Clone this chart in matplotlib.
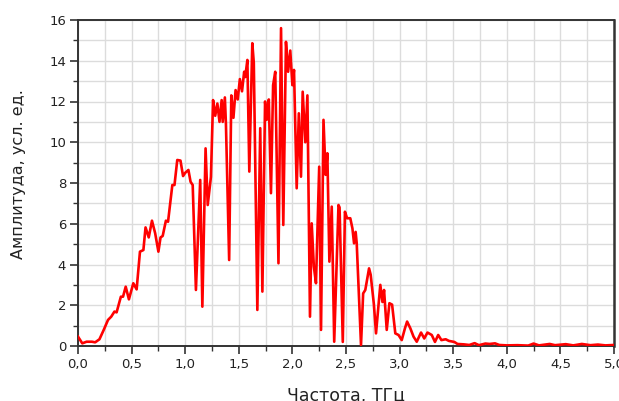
import matplotlib
matplotlib.use("Agg")
import matplotlib.pyplot as plt
from matplotlib.ticker import MultipleLocator, FuncFormatter

plt.rcParams['font.family'] = ['DejaVu Sans']

freq = [0.00, 0.04, 0.08, 0.13, 0.16, 0.20, 0.24, 0.28, 0.31, 0.34, 0.36, 0.40, 0.42, 0.445, 0.475,
        0.516, 0.547, 0.578, 0.61, 0.63, 0.66, 0.69, 0.72, 0.75, 0.77, 0.79, 0.82, 0.84, 0.88, 0.90,
        0.926, 0.956, 0.98, 1.00, 1.03, 1.05, 1.07, 1.10, 1.14, 1.16, 1.19, 1.21, 1.24, 1.26, 1.28,
        1.30, 1.32, 1.34, 1.35, 1.37, 1.38, 1.41, 1.43, 1.45, 1.47, 1.49, 1.51, 1.53, 1.55, 1.56,
        1.58, 1.598, 1.626, 1.64, 1.673, 1.70, 1.72, 1.745, 1.76, 1.78, 1.80, 1.82, 1.84, 1.87,
        1.894, 1.915, 1.94, 1.96, 1.98, 2.00, 2.015, 2.04, 2.06, 2.08, 2.096, 2.12, 2.14, 2.164,
        2.18, 2.20, 2.22, 2.25, 2.267, 2.29, 2.31, 2.326, 2.345, 2.367, 2.39, 2.43, 2.44, 2.47,
        2.49, 2.51, 2.54, 2.56, 2.575, 2.59, 2.60, 2.64, 2.66, 2.68, 2.715, 2.73, 2.76, 2.78,
        2.82, 2.84, 2.855, 2.88, 2.905, 2.93, 2.96, 2.99, 3.02, 3.05, 3.07, 3.10, 3.13, 3.16,
        3.20, 3.23, 3.26, 3.30, 3.33, 3.36, 3.39, 3.43, 3.46, 3.51, 3.54, 3.60, 3.65, 3.70,
        3.74, 3.80, 3.84, 3.89, 3.93, 4.00, 4.10, 4.20, 4.25, 4.30, 4.40, 4.45, 4.55, 4.62,
        4.70, 4.78, 4.85, 4.92, 5.00]
amplitude = [0.46, 0.13, 0.21, 0.21, 0.18, 0.33, 0.79, 1.28, 1.44, 1.69, 1.65, 2.42, 2.42, 2.91, 2.29,
             3.08, 2.78, 4.63, 4.71, 5.82, 5.33, 6.15, 5.53, 4.63, 5.33, 5.40, 6.15, 6.10, 7.90, 7.90,
             9.13, 9.10, 8.34, 8.50, 8.64, 8.06, 7.90, 2.75, 8.15, 1.93, 9.70, 6.92, 8.30, 12.07, 11.30,
             11.90, 11.00, 12.07, 11.00, 12.20, 10.90, 4.22, 12.30, 11.20, 12.56, 12.10, 13.10, 12.50, 13.46, 13.20,
             14.04, 8.56, 14.86, 13.90, 1.77, 10.69, 2.67, 12.00, 11.10, 12.10, 7.50, 12.80, 13.46, 4.06,
             15.60, 5.94, 14.93, 13.46, 14.50, 12.80, 13.55, 7.74, 11.42, 8.31, 12.48, 10.00, 12.30, 1.44,
             6.02, 3.90, 3.08, 8.80, 0.79, 11.10, 8.40, 9.46, 4.14, 6.84, 0.21, 6.92, 6.80, 0.20,
             6.59, 6.27, 6.27, 5.77, 5.04, 5.60, 5.04, 0.05, 2.58, 2.75, 3.81, 3.50, 2.05, 0.62,
             3.00, 2.16, 2.75, 0.79, 2.10, 2.03, 0.62, 0.54, 0.29, 0.87, 1.20, 0.87, 0.46, 0.21,
             0.66, 0.37, 0.66, 0.54, 0.20, 0.54, 0.29, 0.33, 0.25, 0.20, 0.10, 0.08, 0.05, 0.14,
             0.04, 0.12, 0.10, 0.13, 0.05, 0.03, 0.04, 0.02, 0.12, 0.03, 0.10, 0.04, 0.09, 0.03,
             0.10, 0.04, 0.07, 0.03, 0.05]

xticks = [0.0, 0.5, 1.0, 1.5, 2.0, 2.5, 3.0, 3.5, 4.0, 4.5, 5.0]
yticks = [0, 2, 4, 6, 8, 10, 12, 14, 16]
xlabel = "Частота, ТГц"
ylabel = "Амплитуда, усл. ед."

fig = plt.figure(figsize=(6.19, 4.01), dpi=100)
ax = fig.add_axes([78/619, 1-346/401, (614-78)/619, (346-20)/401])

ax.plot(freq, amplitude, color='#ff0000', linewidth=1.9, zorder=3)

ax.set_xlim(0, 5)
ax.set_ylim(0, 16)
ax.set_xticks(xticks)
ax.set_yticks(yticks)
ax.xaxis.set_minor_locator(MultipleLocator(0.25))
ax.yaxis.set_minor_locator(MultipleLocator(1))
ax.xaxis.set_major_formatter(FuncFormatter(lambda v, p: f"{v:.1f}".replace('.', ',')))
ax.yaxis.set_major_formatter(FuncFormatter(lambda v, p: f"{v:.0f}"))

ax.grid(True, which='both', color='#dcdcdc', linewidth=1.0, zorder=0)
ax.set_axisbelow(True)

for s in ax.spines.values():
    s.set_color('#333333')
    s.set_linewidth(1.4)
ax.spines['right'].set_linewidth(1.8)

ax.tick_params(which='major', direction='out', length=6, width=1.2, color='#333333', pad=2.5,
               labelsize=9.5, labelcolor='#222222', top=False, right=False)
ax.tick_params(which='minor', direction='out', length=3.5, width=1.0, color='#333333',
               top=False, right=False)

ax.set_xlabel(xlabel, fontsize=12.5, color='#222222')
ax.set_ylabel(ylabel, fontsize=11.5, color='#222222')
ax.xaxis.set_label_coords(0.5, -0.125)
ax.yaxis.set_label_coords(-0.097, 0.528)

fig.savefig("out.png", dpi=100)
